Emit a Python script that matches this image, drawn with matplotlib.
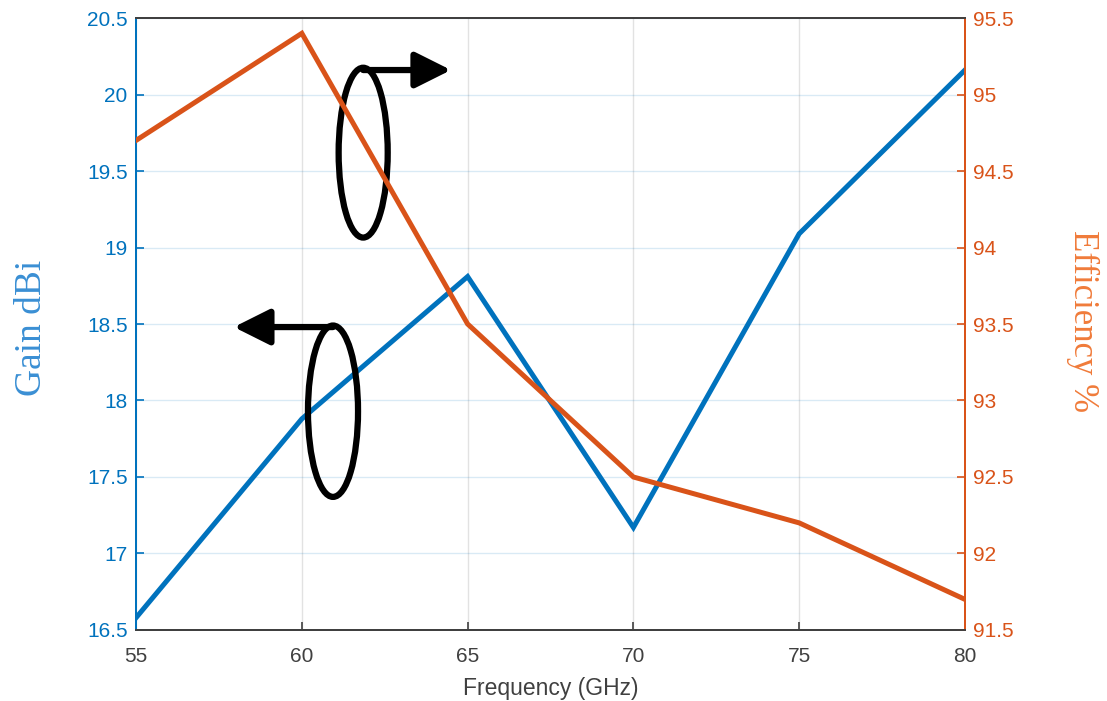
import numpy as np
import matplotlib
matplotlib.use('Agg')
import matplotlib.pyplot as plt
from matplotlib.patches import Ellipse

# Data
freq = [55, 60, 65, 70, 75, 80]
gain = [16.58, 17.88, 18.81, 17.17, 19.09, 20.16]
efficiency = [94.70, 95.40, 93.50, 92.50, 92.20, 91.70]

xticks = [55, 60, 65, 70, 75, 80]
gain_ticks = [16.5, 17, 17.5, 18, 18.5, 19, 19.5, 20, 20.5]
eff_ticks = [91.5, 92, 92.5, 93, 93.5, 94, 94.5, 95, 95.5]

blue = '#0072BD'
orange = '#D95319'
dark = '#404040'

plt.rcParams['font.family'] = ['Liberation Sans', 'DejaVu Sans']

fig = plt.figure(figsize=(11.07, 7.01), dpi=100)
ax = fig.add_axes([0.1229, 0.1013, 0.7488, 0.8730])
ax2 = ax.twinx()

ax.plot(freq, gain, color=blue, lw=3.6, solid_joinstyle='miter', zorder=3)
ax2.plot(freq, efficiency, color=orange, lw=3.6, solid_joinstyle='miter', zorder=3)

ax.set_xlim(55, 80)
ax.set_ylim(16.5, 20.5)
ax2.set_ylim(91.5, 95.5)
ax.set_xticks(xticks)
ax.set_xticklabels([str(v) for v in xticks])
ax.set_yticks(gain_ticks)
ax.set_yticklabels(['%g' % v for v in gain_ticks])
ax2.set_yticks(eff_ticks)
ax2.set_yticklabels(['%g' % v for v in eff_ticks])

# grid: horizontal lines tinted like the left axis, vertical lines grey
ax.grid(axis='y', color=blue, alpha=0.15, lw=1.0)
ax.grid(axis='x', color=dark, alpha=0.15, lw=1.0)
ax.set_axisbelow(True)

ax.tick_params(axis='x', direction='in', length=6, width=1.2, colors=dark,
               labelsize=15, pad=12)
ax.tick_params(axis='y', direction='in', length=6, width=1.2, colors=blue,
               labelsize=15, pad=6)
ax2.tick_params(axis='y', direction='in', length=6, width=1.2, colors=orange,
                labelsize=15, pad=6)

for a in (ax, ax2):
    a.spines['top'].set_color(dark)
    a.spines['bottom'].set_color(dark)
    a.spines['left'].set_color(blue)
    a.spines['right'].set_color(orange)
    for s in a.spines.values():
        s.set_linewidth(1.4)

ax.set_xlabel('Frequency (GHz)', fontsize=16.5, color=dark, va='center')
ax.xaxis.set_label_coords(0.5, -0.0948)
ax.set_ylabel('Gain dBi', fontsize=27, color='#3a8fd4',
              family='Liberation Serif', va='center')
ax.yaxis.set_label_coords(-0.126, 0.493)
ax2.set_ylabel('Efficiency %', fontsize=25, color='#f07b3a',
               family='Liberation Serif', rotation=-90, va='center')
ax2.yaxis.set_label_coords(1.142, 0.505)

# hand-drawn style markers: ellipse + arrow pointing to the matching axis
ax.add_patch(Ellipse((61.85, 19.62), 1.48, 1.11, fill=False, ec='black',
                     lw=4.5, zorder=5))
ax.annotate('', xy=(64.5, 20.16), xytext=(61.85, 20.16),
            arrowprops=dict(arrowstyle='-|>,head_length=1.1,head_width=0.55',
                            lw=4.5, color='black', shrinkA=0, shrinkB=0,
                            mutation_scale=20), zorder=5)
ax.add_patch(Ellipse((60.94, 17.93), 1.51, 1.12, fill=False, ec='black',
                     lw=4.5, zorder=5))
ax.annotate('', xy=(57.95, 18.48), xytext=(60.94, 18.48),
            arrowprops=dict(arrowstyle='-|>,head_length=1.1,head_width=0.55',
                            lw=4.5, color='black', shrinkA=0, shrinkB=0,
                            mutation_scale=20), zorder=5)

fig.savefig('out.png', dpi=100)
